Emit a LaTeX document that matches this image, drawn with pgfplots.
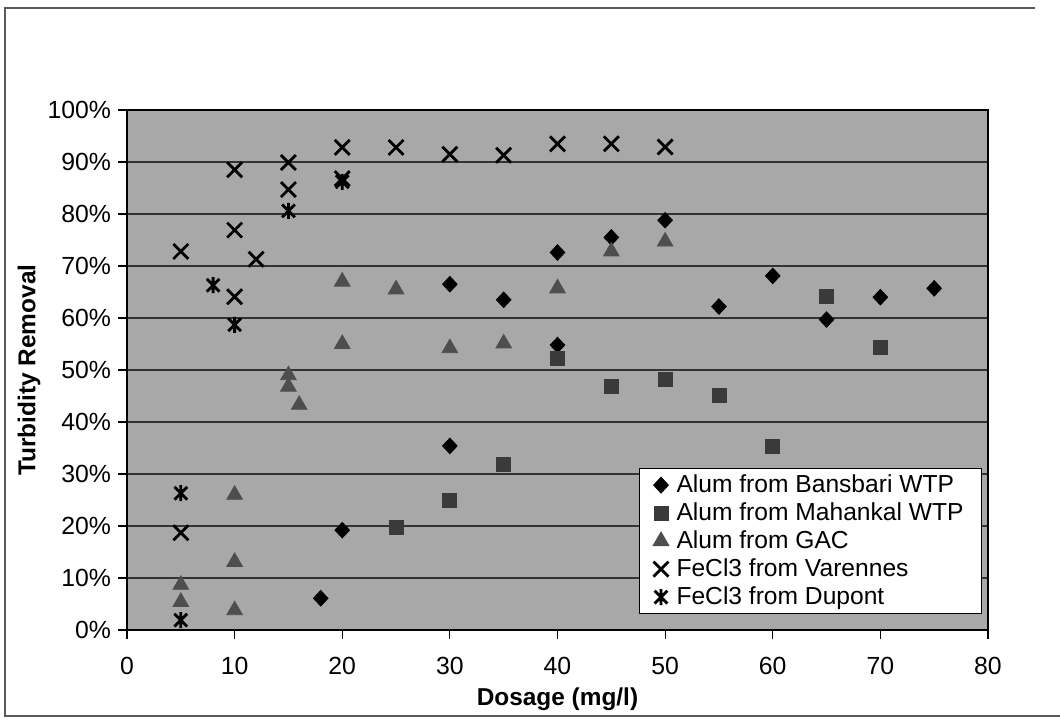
\documentclass[border=0pt]{standalone}
\usepackage{fontspec}
\setmainfont{Liberation Sans}
\usepackage{pgfplots}
\pgfplotsset{compat=1.18}
\pgfdeclareplotmark{xstar}{%
  \pgfpathmoveto{\pgfqpoint{-0.8\pgfplotmarksize}{-0.8\pgfplotmarksize}}%
  \pgfpathlineto{\pgfqpoint{0.8\pgfplotmarksize}{0.8\pgfplotmarksize}}%
  \pgfpathmoveto{\pgfqpoint{-0.8\pgfplotmarksize}{0.8\pgfplotmarksize}}%
  \pgfpathlineto{\pgfqpoint{0.8\pgfplotmarksize}{-0.8\pgfplotmarksize}}%
  \pgfpathmoveto{\pgfqpoint{0pt}{-\pgfplotmarksize}}%
  \pgfpathlineto{\pgfqpoint{0pt}{\pgfplotmarksize}}%
  \pgfusepathqstroke}
\definecolor{plotbg}{RGB}{168,168,168}
\definecolor{sqcol}{RGB}{58,58,58}
\definecolor{tricol}{RGB}{78,78,78}
\definecolor{framecol}{RGB}{90,90,90}
\begin{document}
\begin{tikzpicture}
\path[use as bounding box] (0,0) rectangle (530pt,359.5pt);
\draw[framecol, line width=0.8pt] (530pt,1.5pt) -- (2.5pt,1.5pt) -- (2.5pt,355.5pt) -- (517.5pt,355.5pt);
\begin{axis}[
  at={(63.5pt,44.5pt)}, anchor=south west,
  scale only axis, width=430.5pt, height=260pt,
  xmin=0, xmax=80, ymin=0, ymax=100,
  xtick={0,10,...,80}, ytick={0,10,...,100},
  yticklabel={\pgfmathprintnumber{\tick}\%},
  /pgf/number format/assume math mode=true,
  tick align=outside, major tick length=4.5pt,
  xtick pos=bottom, ytick pos=left,
  ymajorgrids, major grid style={black!80, line width=0.6pt},
  axis line style={black, line width=0.9pt},
  tick style={black, line width=0.6pt},
  axis background/.style={fill=plotbg},
  ticklabel style={font=\fontsize{12.4}{14}\selectfont},
  xticklabel style={yshift=-5.5pt},
  xlabel={Dosage (mg/l)}, ylabel={Turbidity Removal},
  label style={font=\bfseries\fontsize{12.2}{14}\selectfont},
  xlabel style={at={(rel axis cs:0.5,-0.1452)}, anchor=base},
  ylabel style={at={(rel axis cs:-0.1063,0.5)}, anchor=base, rotate=0},
  clip=false,
  legend cell align=left,
  legend style={at={(0.5947,0.3115)}, anchor=north west, draw=black, line width=0.5pt, fill=white,
    font=\fontsize{12.3}{14}\selectfont, inner xsep=1.5pt, inner ysep=1.3pt, row sep=0pt,
    nodes={inner sep=0pt, text height=10.5pt, text depth=3.5pt}},
  legend image code/.code={\path (-9pt,0pt) (7.5pt,0pt); \draw[#1] plot coordinates {(0pt,0pt)};},
]
\addplot[only marks, mark=diamond*, mark size=3.9pt, mark options={xscale=1.25, fill=black, draw=black}] coordinates {
(18,6.1) (20,19.2) (30,35.4) (30,66.5) (35,63.5) (40,54.8) (40,72.6) (45,75.5) (50,78.8) (55,62.2) (60,68.1) (65,59.7) (70,64) (75,65.7)};
\addlegendentry{\makebox[151pt][l]{Alum from Bansbari WTP}}
\addplot[only marks, mark=square*, mark size=3.5pt, mark options={fill=sqcol, draw=sqcol}] coordinates {
(25,19.7) (30,24.9) (35,31.9) (40,52.2) (45,46.9) (50,48.1) (55,45.2) (60,35.3) (65,64.1) (70,54.4)};
\addlegendentry{Alum from Mahankal WTP}
\addplot[only marks, mark=triangle*, mark size=4.5pt, mark options={fill=tricol, draw=tricol}] coordinates {
(5,8.7) (5,5.4) (10,26) (10,13.1) (10,3.8) (15,49) (15,46.8) (16,43.3) (20,67) (20,55) (25,65.5) (30,54.2) (35,55.1) (40,65.7) (45,72.8) (50,74.7)};
\addlegendentry{Alum from GAC}
\addplot[only marks, mark=x, mark size=5.3pt, mark options={draw=black, line width=1.4pt}] coordinates {
(5,72.8) (5,18.7) (10,88.5) (10,76.9) (10,64.1) (12,71.3) (15,89.9) (15,84.7) (20,92.8) (20,86.8) (25,92.8) (30,91.5) (35,91.3) (40,93.5) (45,93.5) (50,92.9)};
\addlegendentry{FeCl3 from Varennes}
\addplot[only marks, mark=xstar, mark size=4pt, mark options={draw=black, line width=1.4pt}] coordinates {
(5,26.3) (5,1.9) (8,66.3) (10,58.7) (15,80.6) (20,86.2)};
\addlegendentry{FeCl3 from Dupont}
\end{axis}
\end{tikzpicture}
\end{document}
